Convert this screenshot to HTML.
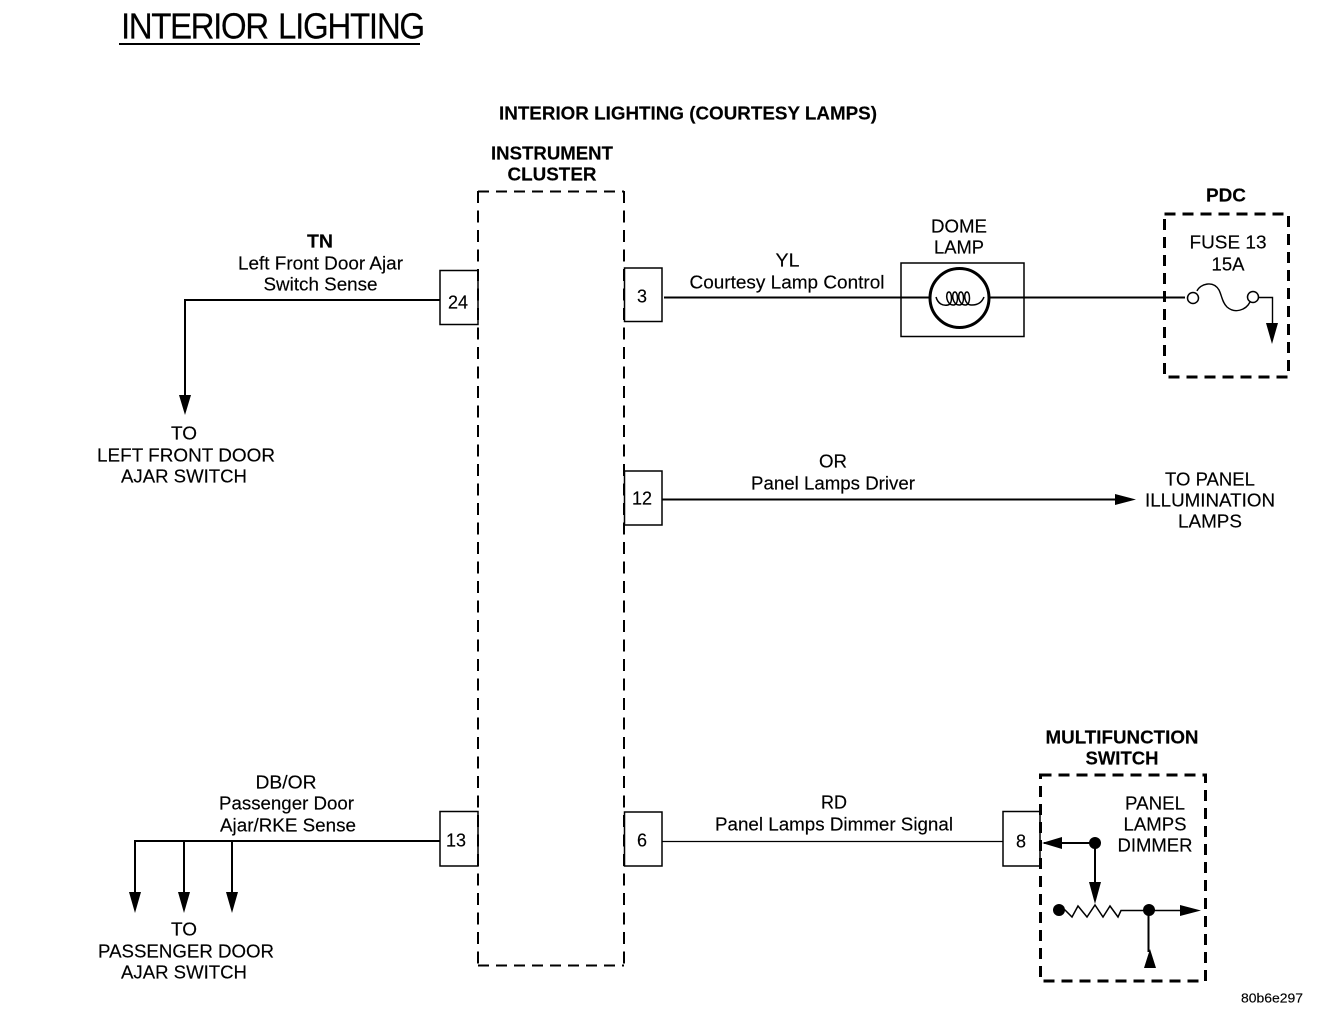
<!DOCTYPE html>
<html><head><meta charset="utf-8"><style>
html,body{margin:0;padding:0;background:#fff}
svg{display:block}
text{font-family:"Liberation Sans",sans-serif;font-size:18px;fill:#000;text-anchor:middle;stroke:#000;stroke-width:.15px}
.b{font-weight:bold}
.s{text-anchor:start}
</style></head><body>
<svg width="1344" height="1014" viewBox="0 0 1344 1014" xmlns="http://www.w3.org/2000/svg">
<rect width="1344" height="1014" fill="#fff"/>
<text class="s" transform="translate(121,38.500) scale(.92,1)" x="0" y="0" style="font-size:36px" textLength="161" lengthAdjust="spacing">INTERIOR</text>
<text class="s" transform="translate(278,38.500) scale(.92,1)" x="0" y="0" style="font-size:36px" textLength="160" lengthAdjust="spacing">LIGHTING</text>
<rect x="119" y="43" width="301" height="2"/>
<g transform="translate(0,.6)">
<text class="b" x="688" y="119" textLength="378" lengthAdjust="spacingAndGlyphs">INTERIOR LIGHTING (COURTESY LAMPS)</text>
<text class="b" x="552" y="159" textLength="122" lengthAdjust="spacingAndGlyphs">INSTRUMENT</text>
<text class="b" x="552" y="180" textLength="89" lengthAdjust="spacingAndGlyphs">CLUSTER</text>
</g>
<g fill="#fff" stroke="#000" stroke-width="1.500">
<rect x="440" y="270.500" width="38" height="54"/>
<rect x="624.500" y="268" width="37.500" height="53.500"/>
<rect x="624.500" y="471" width="37.500" height="54"/>
<rect x="624.500" y="812" width="37.500" height="54"/>
<rect x="440" y="811.500" width="38" height="54.500"/>
<rect x="1003" y="811.500" width="37" height="54.500"/>
</g>
<g fill="none" stroke="#000">
<path d="M478 191.500H624" stroke-width="2" stroke-dasharray="11 7"/>
<path d="M478 965.500H624" stroke-width="2" stroke-dasharray="11 7"/>
<path d="M478 191V966M624 191V966" stroke-width="2" stroke-dasharray="12 7.500"/>
<rect x="1164.500" y="214" width="124" height="163" stroke-width="3" stroke-dasharray="11 7"/>
<rect x="1040.500" y="775" width="165" height="206" stroke-width="3" stroke-dasharray="11 7"/>
</g>
<g fill="none" stroke="#000" stroke-width="2">
<path d="M440 300H185V398"/>
<path d="M440 841H135V895M184 841V895M232 841V895"/>
<path d="M664 297.500H1185"/>
<path d="M662 499.500H1118"/>
<path d="M1044 843H1095V885M1148.500 910V952"/>
</g>
<path d="M662 841.500H1003" fill="none" stroke="#000" stroke-width="1.200"/>
<path d="M1060 910H1065L1072 917 1078 906 1087 917 1095 905 1103 917 1110 906 1118 917 1121 910.500H1185" fill="none" stroke="#000" stroke-width="1.500"/>
<path d="M179 395H191L185 415Z M129 892H141L135 913Z M178 892H190L184 913Z M226 892H238L232 913Z M1115 494L1136 499.500 1115 505Z M1266 323H1278L1272 344Z M1062 837V849L1042 843Z M1089 882H1101L1095 904Z M1180 905V916L1201 910.500Z M1144 968H1156L1150 949Z"/>
<circle cx="1059" cy="910" r="6"/><circle cx="1095" cy="843" r="6"/><circle cx="1149" cy="910" r="6"/>
<rect x="901" y="263" width="123" height="73.500" fill="none" stroke="#000" stroke-width="1.500"/>
<circle cx="959.500" cy="298" r="29.500" fill="#fff" stroke="#000" stroke-width="3"/>
<path d="M936 297C938 304 943 306 948 305C953 304 952 292 949 292C945 292 946 306 954 305C959 304 958 292 955 292C951 292 952 306 960 305C965 304 964 292 961 292C957 292 958 306 966 305C971 304 970 292 967 292C963 292 964 306 972 305C978 305 982 302 984 297" fill="none" stroke="#000" stroke-width="1.500"/>
<path d="M1197 291C1200 284 1213 280 1219 290C1222 296 1222 302 1227 307C1235 314 1246 310 1250 302" fill="none" stroke="#000" stroke-width="1.400"/>
<path d="M1259 297.500H1272.500V325" fill="none" stroke="#000" stroke-width="1.400"/>
<circle cx="1193" cy="298" r="5.500" fill="#fff" stroke="#000" stroke-width="1.500"/>
<circle cx="1253" cy="297" r="5.500" fill="#fff" stroke="#000" stroke-width="1.500"/>
<g transform="translate(0,.6)">
<text x="458" y="308">24</text><text x="642" y="302">3</text><text x="642" y="504">12</text><text x="642" y="846">6</text><text x="456" y="846">13</text><text x="1021" y="847">8</text>
<text class="b" x="320" y="247" textLength="26" lengthAdjust="spacingAndGlyphs">TN</text>
<text x="320.500" y="269" textLength="165" lengthAdjust="spacingAndGlyphs">Left Front Door Ajar</text>
<text x="320.500" y="290" textLength="114" lengthAdjust="spacingAndGlyphs">Switch Sense</text>
<text x="184" y="439" textLength="26" lengthAdjust="spacingAndGlyphs">TO</text>
<text x="186" y="461" textLength="178" lengthAdjust="spacingAndGlyphs">LEFT FRONT DOOR</text>
<text x="184" y="482" textLength="126" lengthAdjust="spacingAndGlyphs">AJAR SWITCH</text>
<text x="787.500" y="266" textLength="24" lengthAdjust="spacingAndGlyphs">YL</text>
<text x="787" y="288" textLength="195" lengthAdjust="spacingAndGlyphs">Courtesy Lamp Control</text>
<text x="959" y="232" textLength="56" lengthAdjust="spacingAndGlyphs">DOME</text>
<text x="959" y="253" textLength="50" lengthAdjust="spacingAndGlyphs">LAMP</text>
<text class="b" x="1226" y="201" textLength="40" lengthAdjust="spacingAndGlyphs">PDC</text>
<text x="1228" y="248" textLength="77" lengthAdjust="spacingAndGlyphs">FUSE 13</text>
<text x="1228" y="270" textLength="33" lengthAdjust="spacingAndGlyphs">15A</text>
<text x="833" y="467" textLength="28" lengthAdjust="spacingAndGlyphs">OR</text>
<text x="833" y="489" textLength="164" lengthAdjust="spacingAndGlyphs">Panel Lamps Driver</text>
<text x="1210" y="485" textLength="90" lengthAdjust="spacingAndGlyphs">TO PANEL</text>
<text x="1210" y="506" textLength="130" lengthAdjust="spacingAndGlyphs">ILLUMINATION</text>
<text x="1210" y="527" textLength="64" lengthAdjust="spacingAndGlyphs">LAMPS</text>
<text x="286" y="788" textLength="61" lengthAdjust="spacingAndGlyphs">DB/OR</text>
<text x="286.500" y="809" textLength="135" lengthAdjust="spacingAndGlyphs">Passenger Door</text>
<text x="288" y="831" textLength="136" lengthAdjust="spacingAndGlyphs">Ajar/RKE Sense</text>
<text x="184" y="935" textLength="26" lengthAdjust="spacingAndGlyphs">TO</text>
<text x="186" y="957" textLength="176" lengthAdjust="spacingAndGlyphs">PASSENGER DOOR</text>
<text x="184" y="978" textLength="126" lengthAdjust="spacingAndGlyphs">AJAR SWITCH</text>
<text x="834" y="808" textLength="26" lengthAdjust="spacingAndGlyphs">RD</text>
<text x="834" y="830" textLength="238" lengthAdjust="spacingAndGlyphs">Panel Lamps Dimmer Signal</text>
<text class="b" x="1122" y="743" textLength="153" lengthAdjust="spacingAndGlyphs">MULTIFUNCTION</text>
<text class="b" x="1122" y="764" textLength="73" lengthAdjust="spacingAndGlyphs">SWITCH</text>
<text x="1155" y="809" textLength="60" lengthAdjust="spacingAndGlyphs">PANEL</text>
<text x="1155" y="830" textLength="63" lengthAdjust="spacingAndGlyphs">LAMPS</text>
<text x="1155" y="851" textLength="75" lengthAdjust="spacingAndGlyphs">DIMMER</text>
<text x="1272" y="1002" style="font-size:13px" textLength="62" lengthAdjust="spacingAndGlyphs">80b6e297</text>
</g>
</svg>
</body></html>
